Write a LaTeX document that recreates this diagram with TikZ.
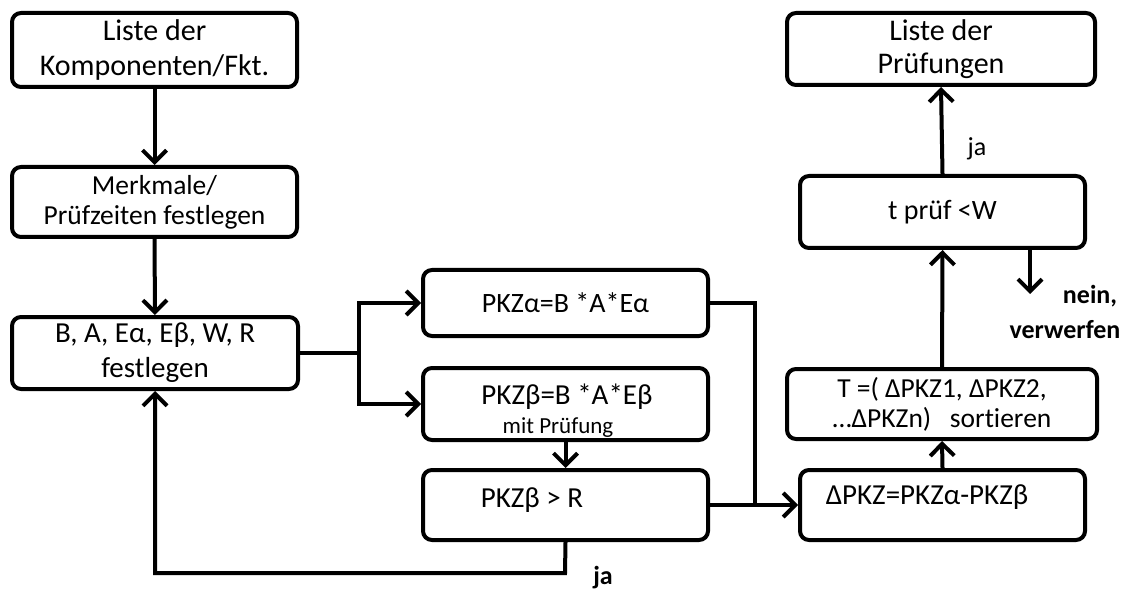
\documentclass[tikz,border=0pt]{standalone}
\usepackage{fontspec}
\setmainfont{Carlito}[Ligatures=NoCommon]
\usetikzlibrary{arrows.meta}
\begin{document}
\begin{tikzpicture}[x=1pt,y=-1pt,
  box/.style={draw=black,line width=4pt,rounded corners=9pt,fill=white,align=center,
    font=\fontsize{29}{35}\selectfont,inner sep=0pt},
  conn/.style={line width=4pt},
  arr/.style={conn,-{Straight Barb[length=12pt,width=24pt,line width=4pt]}},
  txt/.style={font=\fontsize{29}{35}\selectfont},
  lab/.style={font=\fontsize{26}{30}\selectfont},
  blab/.style={font=\bfseries\fontsize{26}{34}\selectfont}]
\useasboundingbox (0,0) rectangle (1123,593);
\fill[white] (0,0) rectangle (1123,593);
% boxes
\node[box,font=\fontsize{30}{35}\selectfont,minimum width=285pt,minimum height=74pt] (b1) at (154.5,50) {Liste der\\Komponenten/Fkt.};
\node[box,font=\fontsize{27.5}{30}\selectfont,minimum width=285pt,minimum height=70pt] (b2) at (154.5,202) {Merkmale/\\Prüfzeiten festlegen};
\node[box,minimum width=286pt,minimum height=72pt] (b3) at (155,353) {B, A, Eα, Eβ, W, R\\festlegen};
\node[box,font=\fontsize{28}{30}\selectfont,minimum width=285pt,minimum height=66pt] (b4) at (565.5,303) {PKZα=B *A*Eα};
\node[box,minimum width=285pt,minimum height=72pt] (b5) at (565.5,404) {};
\node[txt] (t5) at (567,397) {PKZβ=B *A*Eβ};
\node[font=\fontsize{23}{26}\selectfont] (t5b) at (558,428) {mit Prüfung};
\node[box,minimum width=285pt,minimum height=70pt] (b6) at (565.5,505) {};
\node[txt] (t6) at (532,500) {PKZβ > R};
\node[box,minimum width=285pt,minimum height=70pt] (b7) at (942.5,505) {};
\node[txt] (t7) at (927,497) {ΔPKZ=PKZα-PKZβ};
\node[box,font=\fontsize{27.5}{30}\selectfont,minimum width=310pt,minimum height=70pt] (b8) at (942,404) {T =( ΔPKZ1, ΔPKZ2,\\…ΔPKZn)\ \ \ sortieren};
\node[box,font=\fontsize{28}{30}\selectfont,minimum width=285pt,minimum height=72pt] (b9) at (942.5,212) {t prüf <W};
\node[box,font=\fontsize{30}{33}\selectfont,minimum width=308pt,minimum height=72pt] (b10) at (941,49) {Liste der\\Prüfungen};
% coordinates
\coordinate (j1) at (359,353);
\coordinate (j2) at (755,505);
\coordinate (c1) at (565,573);
\coordinate (c2) at (155,573);
\coordinate (nein) at (1030,294);
% connectors
\draw[arr] (b1.south) -- (b2.north);
\draw[arr] (b2.south) -- (b3.north);
\draw[conn] (b3.east) -- (j1);
\draw[arr] (j1) |- (b4.west);
\draw[arr] (j1) |- (b5.west);
\draw[arr] (b5.south) -- (b6.north);
\draw[arr] (b6.south) -- (c1) -- (c2) -- (b3.south);
\draw[conn] (b4.east) -| (j2);
\draw[arr] (b6.east) -- (b7.west);
\draw[arr] (b7.north) -- (b8.south);
\draw[arr] (b8.north) -- (b9.south);
\draw[arr] (b9.south -| nein) -- (nein);
\draw[arr] (b9.north) -- (b10.south);
% labels
\node[blab] (ja1) at (603,578) {ja};
\node[lab] (ja2) at (977,149) {ja};
\node[blab] (nein1) at (1090,296) {nein,};
\node[blab] (verw) at (1065,330) {verwerfen};
\end{tikzpicture}
\end{document}
